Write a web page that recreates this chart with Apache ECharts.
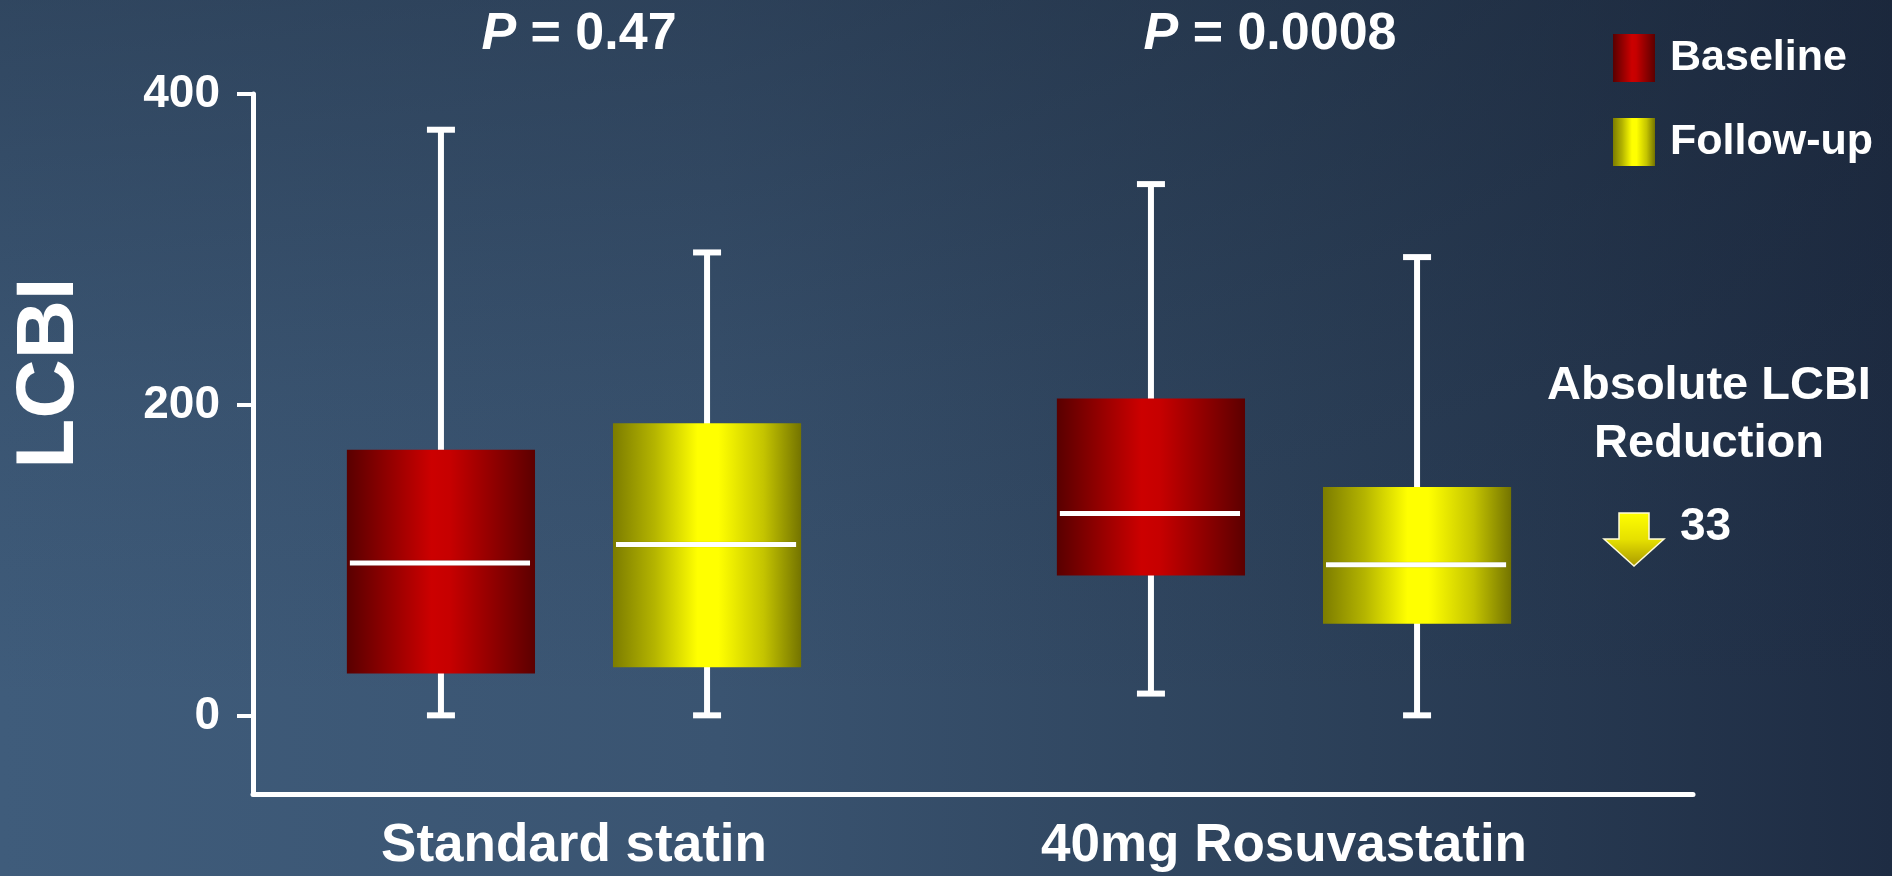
<!DOCTYPE html>
<html>
<head>
<meta charset="utf-8">
<title>LCBI – Standard statin vs 40mg Rosuvastatin</title>
<script src="https://cdn.jsdelivr.net/npm/echarts@6/dist/echarts.min.js"></script>
<style>
  html, body { margin: 0; padding: 0; width: 1892px; height: 876px; overflow: hidden; }
  #chart {
    width: 1892px; height: 876px;
    background:
      linear-gradient(to bottom, rgba(22, 32, 48, 0.36) 0%, rgba(22, 32, 48, 0.12) 45%, rgba(22, 32, 48, 0) 80%),
      linear-gradient(to right, #3f5c7b 0%, #3a5471 38%, #2d425b 68%, #1e2c43 100%);
  }
</style>
</head>
<body>
<div id="chart"></div>
<script>
// Treatment groups along the x axis
const categories = ['Standard statin', '40mg Rosuvastatin'];
// Box statistics per group: [min, Q1, median, Q3, max]
const baselineStats = [
  [0, 27, 98, 171, 377],
  [14, 90, 130, 204, 342]
];
const followUpStats = [
  [0, 31, 110, 188, 298],
  [0, 59, 97, 147, 295]
];
const seriesNames = ['Baseline', 'Follow-up'];
const pValues = ['0.47', '0.0008'];
const yTicks = [0, 200, 400];
const reductionTitle = 'Absolute LCBI\nReduction';
const reductionValue = 33;

const FONT = '"Liberation Sans", Arial, Helvetica, sans-serif';
const WHITE = '#ffffff';

const redFill = {
  type: 'linear', x: 0, y: 0, x2: 1, y2: 0,
  colorStops: [
    { offset: 0, color: '#590000' },
    { offset: 0.45, color: '#cc0000' },
    { offset: 0.55, color: '#c60000' },
    { offset: 1, color: '#5c0000' }
  ]
};
const yellowFill = {
  type: 'linear', x: 0, y: 0, x2: 1, y2: 0,
  colorStops: [
    { offset: 0, color: '#7c7c00' },
    { offset: 0.22, color: '#b4b400' },
    { offset: 0.45, color: '#ffff00' },
    { offset: 0.56, color: '#ffff00' },
    { offset: 0.8, color: '#c4c400' },
    { offset: 1, color: '#747400' }
  ]
};

// Each series row: [categoryIndex, min, Q1, median, Q3, max]
function toRows(stats) {
  return stats.map((s, i) => [i].concat(s));
}

const BOX_FRAC = 0.265;    // box width as a share of the category band
const CAP_HALF = 14;       // half-width of whisker caps, px

function boxRenderer(offsetFrac, fill) {
  return function (params, api) {
    const cat = api.value(0);
    const band = api.size([1, 0])[0];
    const cx = api.coord([cat, 0])[0] + offsetFrac * band;
    const w = band * BOX_FRAC;
    const y = v => api.coord([cat, v])[1];
    const yMin = y(api.value(1));
    const yQ1 = y(api.value(2));
    const yMed = y(api.value(3));
    const yQ3 = y(api.value(4));
    const yMax = y(api.value(5));
    const line = (x1, y1, x2, y2, lw) => ({
      type: 'line',
      shape: { x1, y1, x2, y2 },
      style: { stroke: WHITE, lineWidth: lw }
    });
    return {
      type: 'group',
      children: [
        line(cx, yMax, cx, yMin, 6),
        line(cx - CAP_HALF, yMax, cx + CAP_HALF, yMax, 6),
        line(cx - CAP_HALF, yMin, cx + CAP_HALF, yMin, 6),
        {
          type: 'rect',
          shape: { x: cx - w / 2, y: yQ3, width: w, height: yQ1 - yQ3 },
          style: { fill: fill }
        },
        {
          type: 'line',
          shape: { x1: cx - w / 2 + 3, y1: yMed, x2: cx + w / 2 - 5, y2: yMed },
          style: { stroke: WHITE, lineWidth: 5, shadowBlur: 1, shadowColor: 'rgba(0,0,0,0.35)' }
        }
      ]
    };
  };
}

const chart = echarts.init(document.getElementById('chart'), null, { renderer: 'canvas' });

const pTitle = (text, x) => ({
  text: '{i|P} = ' + text,
  left: x, top: 5, textAlign: 'center', padding: 0,
  textStyle: {
    color: WHITE, fontSize: 52, fontWeight: 'bold', fontFamily: FONT, lineHeight: 60,
    rich: { i: { fontStyle: 'italic', fontWeight: 'bold', fontSize: 52, color: WHITE, fontFamily: FONT, lineHeight: 60 } }
  }
});

const option = {
  backgroundColor: 'transparent',
  animation: false,
  textStyle: { fontFamily: FONT },
  title: [pTitle(pValues[0], 579), pTitle(pValues[1], 1270)],
  legend: {
    orient: 'vertical',
    left: 1613, top: 34,
    padding: 0,
    itemWidth: 42, itemHeight: 48, itemGap: 36,
    icon: 'rect',
    selectedMode: false,
    data: [
      { name: seriesNames[0], itemStyle: { color: redFill } },
      { name: seriesNames[1], itemStyle: { color: yellowFill } }
    ],
    textStyle: { color: WHITE, fontSize: 43, fontWeight: 'bold', fontFamily: FONT, padding: [0, 0, 0, 10] }
  },
  grid: [
    // box area: category bands for the two treatment groups
    { left: 219, right: 253, top: 94, bottom: 82, containLabel: false },
    // frame: drawn axis lines, ticks and value labels
    { left: 253, right: 199, top: 94, bottom: 82, containLabel: false }
  ],
  xAxis: [
    {
      gridIndex: 0, type: 'category', data: categories,
      axisLine: { show: false }, axisTick: { show: false }, splitLine: { show: false },
      axisLabel: { color: WHITE, fontSize: 53, fontWeight: 'bold', fontFamily: FONT, margin: 23, lineHeight: 60 }
    },
    {
      gridIndex: 1, type: 'value', min: 0, max: 1,
      axisLine: { show: true, onZero: false, lineStyle: { color: WHITE, width: 5 } },
      axisTick: { show: false }, axisLabel: { show: false }, splitLine: { show: false }
    }
  ],
  yAxis: [
    { gridIndex: 0, type: 'value', min: -50, max: 400, show: false, splitLine: { show: false } },
    {
      gridIndex: 1, type: 'value', min: -50, max: 400,
      axisLine: { show: true, onZero: false, lineStyle: { color: WHITE, width: 5 } },
      axisTick: { show: true, customValues: yTicks, length: 16, lineStyle: { color: WHITE, width: 4 } },
      axisLabel: { customValues: yTicks, color: WHITE, fontSize: 46, fontWeight: 'bold', fontFamily: FONT, margin: 33 },
      splitLine: { show: false }
    }
  ],
  series: [
    {
      name: seriesNames[0], type: 'custom',
      xAxisIndex: 0, yAxisIndex: 0,
      itemStyle: { color: redFill },
      encode: { x: 0, y: [1, 2, 3, 4, 5] },
      renderItem: boxRenderer(-0.1874, redFill),
      data: toRows(baselineStats)
    },
    {
      name: seriesNames[1], type: 'custom',
      xAxisIndex: 0, yAxisIndex: 0,
      itemStyle: { color: yellowFill },
      encode: { x: 0, y: [1, 2, 3, 4, 5] },
      renderItem: boxRenderer(0.1874, yellowFill),
      data: toRows(followUpStats)
    }
  ],
  graphic: [
    {
      type: 'text', x: 50, y: 373, rotation: Math.PI / 2,
      style: { text: 'LCBI', fill: WHITE, fontSize: 82, fontWeight: 'bold', fontFamily: FONT, align: 'center', verticalAlign: 'middle' }
    },
    {
      type: 'text', x: 1709, y: 357,
      style: { text: reductionTitle, fill: WHITE, fontSize: 47, fontWeight: 'bold', fontFamily: FONT, align: 'center', verticalAlign: 'top', lineHeight: 58 }
    },
    {
      type: 'polygon',
      shape: { points: [[1619, 513], [1649, 513], [1649, 539], [1664, 539], [1634, 566], [1604, 539], [1619, 539]] },
      style: {
        fill: { type: 'linear', x: 0, y: 0, x2: 0, y2: 1, colorStops: [{ offset: 0, color: '#ffff00' }, { offset: 0.5, color: '#e6e000' }, { offset: 1, color: '#a89800' }] },
        stroke: '#fffbd8', lineWidth: 1.5
      }
    },
    {
      type: 'text', x: 1680, y: 527,
      style: { text: String(reductionValue), fill: WHITE, fontSize: 46, fontWeight: 'bold', fontFamily: FONT, align: 'left', verticalAlign: 'middle' }
    }
  ]
};

chart.setOption(option);
</script>
</body>
</html>
